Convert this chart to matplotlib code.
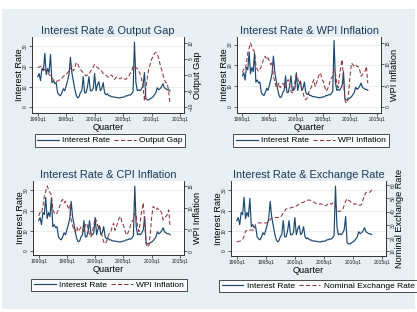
import numpy as np
import matplotlib
matplotlib.use("Agg")
import matplotlib.pyplot as plt
from matplotlib.lines import Line2D
from matplotlib.patches import Rectangle

plt.rcParams['font.family'] = ['Liberation Sans', 'DejaVu Sans']

# ---------------- data (quarterly, 1990q1 .. 2013q2) ----------------
start_year = 1990
interest_rate = [
    15, 16.5, 13, 19,
    18, 26.5, 16, 19,
    17, 26, 12, 13,
    11.5, 12, 7, 6,
    5.5, 7, 9, 8,
    10.5, 13, 16, 24.5,
    17, 13, 9, 6,
    4.5, 5, 7, 8,
    15, 7, 7, 10,
    15, 8, 8, 9,
    16.5, 8, 11, 12.5,
    8, 9, 12, 7,
    6, 6.5, 5.5, 5.5,
    5, 5, 4.8, 4.8,
    4.5, 4.5, 4.5, 4.8,
    4.8, 5, 5.5, 5.5,
    6, 5.8, 6.5, 7.5,
    32, 12, 8, 8.5,
    8, 9, 10.5, 17,
    4, 3.5, 3.5, 4,
    4.5, 5, 6, 7,
    9.5, 8.5, 9, 10,
    11.5, 9.5, 9, 8.5,
    8.5, 8,
]
output_gap = [
    2.3, 2.5, 2.7, 2.3,
    2.0, 1.6, 1.2, 0.7,
    0.2, -0.3, -0.8, -1.5,
    -2.2, -2.0, -1.9, -1.6,
    -1.4, -1.0, -0.5, 0.0,
    0.2, 0.7, 1.2, 2.0,
    2.8, 1.3, 2.0, 3.9,
    3.7, 2.5, 1.8, 1.2,
    0.7, 0.2, -0.3, 0.0,
    0.2, 1.0, 1.8, 2.5,
    3.3, 2.8, 2.3, 2.0,
    1.8, 1.2, 0.5, 0.2,
    -0.1, -0.5, -0.8, -0.3,
    0.0, -0.8, -1.4, -0.8,
    -0.5, -1.0, -1.2, -0.8,
    -0.8, -1.2, -1.4, -0.8,
    -0.3, 0.5, 1.2, 2.8,
    2.8, 2.3, 2.0, 1.2,
    0.2, -1.3, -3.4, -8.1,
    -4.5, -0.8, 1.8, 3.3,
    4.9, 5.7, 6.7, 7.1,
    6.5, 5.3, 3.3, 1.8,
    0.2, -1.4, -2.4, -2.6,
    -5.0, -9.0,
]
wpi_inflation = [
    8.1, 8.9, 8.75, 10.3,
    12.7, 13.8, 15.0, 14.2,
    13.4, 13.0, 9.9, 8.75,
    8.4, 8.8, 9.5, 10.5,
    11.5, 11.9, 11.1, 11.5,
    10.7, 9.9, 10.5, 7.2,
    6.0, 4.8, 4.5, 5.6,
    4.5, 5.0, 5.6, 5.0,
    4.5, 6.0, 6.4, 5.0,
    3.7, 3.3, 4.5, 6.0,
    7.6, 6.8, 5.6, 6.0,
    4.5, 3.3, 2.1, 1.7,
    2.1, 3.3, 4.1, 4.5,
    5.6, 6.4, 4.8, 5.6,
    6.8, 7.6, 8.0, 6.4,
    6.0, 4.8, 3.7, 4.1,
    4.8, 6.0, 6.8, 7.2,
    8.75, 8.0, 5.6, 4.5,
    7.2, 9.5, 11.1, 6.4,
    1.7, 0.9, 1.3, 4.1,
    8.0, 10.3, 9.9, 9.5,
    9.9, 9.5, 9.5, 8.75,
    7.2, 7.6, 8.0, 8.4,
    9.5, 5.6,
]
cpi_inflation = list(wpi_inflation)
exchange_rate = [
    17.0, 17.2, 17.5, 18.0,
    18.7, 21.2, 25.0, 25.8,
    25.8, 25.9, 25.9, 26.0,
    26.0, 30.3, 31.0, 31.4,
    31.4, 31.4, 31.4, 31.4,
    31.4, 31.4, 32.0, 34.0,
    35.0, 35.2, 35.3, 35.5,
    35.5, 35.6, 35.7, 37.0,
    39.2, 40.5, 42.0, 42.2,
    42.4, 42.8, 43.2, 43.5,
    43.7, 44.2, 45.0, 46.0,
    46.5, 46.8, 47.2, 47.8,
    48.2, 48.8, 48.8, 48.5,
    48.0, 47.3, 46.5, 46.0,
    46.0, 45.5, 46.0, 45.5,
    45.5, 44.5, 45.0, 46.0,
    46.5, 45.5, 46.5, 45.0,
    44.0, 41.0, 40.0, 40.5,
    40.5, 42.0, 44.7, 48.0,
    49.8, 48.5, 48.0, 46.5,
    46.5, 45.5, 46.0, 45.0,
    45.0, 44.8, 45.5, 49.0,
    52.4, 54.5, 55.0, 54.5,
    55.0, 56.5,
]
x_tick_years = [1990, 1995, 2000, 2005, 2010, 2015]
x_tick_labels = ["1990q1", "1995q1", "2000q1", "2005q1", "2010q1", "2015q1"]

titles = ["Interest Rate & Output Gap", "Interest Rate & WPI Inflation",
          "Interest Rate & CPI Inflation", "Interest Rate & Exchange Rate"]
right_labels = ["Output Gap", "WPI Inflation", "WPI Inflation", "Nominal Exchange Rate"]
legend_labels = ["Output Gap", "WPI Inflation", "WPI Inflation", "Nominal Exchange Rate"]
right_series = [output_gap, wpi_inflation, cpi_inflation, exchange_rate]
right_ticks = [[-10, -5, 0, 5, 10], [0, 5, 10, 15], [0, 5, 10, 15], [10, 20, 30, 40, 50, 60]]
left_ticks = [0, 10, 20, 30]

# ---------------- styling / layout ----------------
W, H = 417, 312
NAVY = "#1a476f"
MAROON = "#90353b"
BG = "#e7eff2"
GRID = "#e4ecef"

# plot boxes in pixels: (left, top, right, bottom)
boxes = [(32, 37, 184, 113), (237, 37, 381, 113), (33, 181, 184, 255), (231, 181, 386, 256)]
left_lims = [(-3, 34.6), (-2.9, 33.7), (-2.0, 34.6), (-2.5, 34.6)]
right_lims = [(-11.9, 11.9), (-1.4, 16.4), (-0.9, 16.15), (6.2, 63.3)]
legend_centers = [(110, 140.5), (311, 140.5), (109, 285), (318, 286)]
xlim = (1989.0, 2015.7)

fig = plt.figure(figsize=(W / 100, H / 100), dpi=100)
fig.patch.set_facecolor("white")
fig.patches.append(Rectangle((2 / W, 1 - 309 / H), 413 / W, 300 / H,
                             transform=fig.transFigure, facecolor=BG,
                             edgecolor="none", zorder=-10))

t = start_year + np.arange(len(interest_rate)) / 4.0

for i in range(4):
    l, tp, r, b = boxes[i]
    ax = fig.add_axes([l / W, 1 - b / H, (r - l) / W, (b - tp) / H])
    ax.set_facecolor("white")
    ax2 = ax.twinx()
    ax.plot(t, interest_rate, color=NAVY, lw=0.85, zorder=3)
    rs = right_series[i]
    tr = start_year + np.arange(len(rs)) / 4.0
    ax2.plot(tr, rs, color=MAROON, lw=0.75, dashes=(4, 2.2))
    ax.set_xlim(*xlim)
    ax.set_ylim(*left_lims[i])
    ax2.set_ylim(*right_lims[i])
    ax.set_yticks(left_ticks)
    ax2.set_yticks(right_ticks[i])
    ax.set_xticks(x_tick_years)
    ax.set_xticklabels(x_tick_labels)
    for a in (ax, ax2):
        a.spines["top"].set_visible(False)
        for s in ("left", "right", "bottom"):
            a.spines[s].set_linewidth(0.6)
            a.spines[s].set_color("#333333")
        a.tick_params(labelsize=3.6, length=2.2, width=0.5, pad=1, colors="#222222")
    ax.tick_params(axis="y", labelrotation=90)
    ax2.tick_params(axis="y", labelrotation=90)
    for lab in ax.get_yticklabels() + ax2.get_yticklabels():
        lab.set_va("center")
    ax.yaxis.grid(True, color=GRID, lw=0.6)
    ax.set_axisbelow(True)
    ax.set_title(titles[i], fontsize=7.9, color="#1a3b5c", pad=2)
    ax.set_xlabel("Quarter", fontsize=6.6, labelpad=0.5)
    ax.set_ylabel("Interest Rate", fontsize=6.6, labelpad=-1)
    ax2.set_ylabel(right_labels[i], fontsize=6.6, labelpad=0)

    cx, cy = legend_centers[i]
    handles = [Line2D([], [], color=NAVY, lw=0.85),
               Line2D([], [], color=MAROON, lw=0.75, dashes=(4, 2.2))]
    leg = fig.legend(handles, ["Interest Rate", legend_labels[i]],
                     loc="center", ncol=2,
                     bbox_to_anchor=(cx / W, 1 - cy / H),
                     bbox_transform=fig.transFigure, fontsize=6.0,
                     frameon=True, fancybox=False, handlelength=2.6,
                     handletextpad=0.4, columnspacing=0.5, borderpad=0.3,
                     borderaxespad=0)
    leg.get_frame().set_edgecolor("black")
    leg.get_frame().set_linewidth(0.6)
    leg.get_frame().set_facecolor("white")

fig.savefig("out.png", dpi=100, facecolor=fig.get_facecolor())
